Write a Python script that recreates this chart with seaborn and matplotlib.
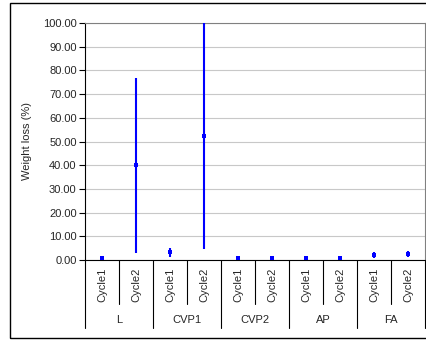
import numpy as np
import pandas as pd
import seaborn as sns
import matplotlib.pyplot as plt
import matplotlib.transforms as mtransforms

groups = ['L', 'CVP1', 'CVP2', 'AP', 'FA']
cycles = ['Cycle1', 'Cycle2']
mean_loss = [0.9, 40.0, 3.2, 52.5, 0.8, 1.0, 1.0, 1.0, 2.0, 2.5]
err_loss = [0.4, 37.0, 2.0, 48.0, 0.3, 0.3, 0.3, 0.3, 1.2, 1.2]

sns.set_style('white')
plt.rcParams['font.family'] = ['Liberation Sans', 'DejaVu Sans']

labels = [g + '|' + c for g in groups for c in cycles]
df = pd.DataFrame({'cat': labels, 'loss': mean_loss, 'err': err_loss})
df['pos'] = np.arange(len(labels))

fig = plt.figure(figsize=(4.27, 3.40), dpi=100)
ax = fig.add_axes([85/427, 1 - 260/340, 340/427, 237/340])

ax.errorbar(df['pos'], df['loss'], yerr=df['err'], fmt='none', ecolor='#0000ff',
            elinewidth=1.5, capsize=0, zorder=3)
sns.scatterplot(data=df, x='pos', y='loss', marker='s', s=10, color='#0000ff',
                linewidth=0, ax=ax, zorder=4, clip_on=False)

ax.set_ylim(0, 100)
ax.set_xlim(-0.5, len(labels) - 0.5)
ax.set_yticks(np.arange(0, 101, 10))
ax.set_yticklabels(['%.2f' % v for v in np.arange(0, 101, 10)], fontsize=8)
ax.yaxis.grid(True, color='#c8c8c8', lw=0.8)
ax.set_axisbelow(True)
ax.tick_params(axis='y', direction='out', length=4, width=0.8, color='black', pad=2, left=True)
ax.set_ylabel('Weight loss (%)', fontsize=8, labelpad=8)
ax.set_xlabel('')
ax.set_xticks([])
for s in ['top', 'right']:
    ax.spines[s].set_color('#808080')
    ax.spines[s].set_linewidth(0.8)
ax.spines['left'].set_color('black')
ax.spines['bottom'].set_color('black')
ax.spines['left'].set_linewidth(0.8)
ax.spines['bottom'].set_linewidth(0.8)

# hierarchical category axis
trans = mtransforms.blended_transform_factory(ax.transData, fig.transFigure)
y0 = 1 - 260/340
y_short = 1 - 304/340
y_long = 1 - 328/340
for b in np.arange(-0.5, len(labels), 1.0):
    idx = int(b + 0.5)
    y_end = y_long if idx % 2 == 0 else y_short
    ax.plot([b, b], [y0, y_end], color='black', lw=0.8, transform=trans, clip_on=False)
for i, lab in enumerate(labels):
    ax.text(i, 1 - 268/340, lab.split('|')[1], rotation=90, ha='center', va='top',
            fontsize=8, transform=trans)
for j, g in enumerate(groups):
    ax.text(2 * j + 0.5, 1 - 320/340, g, ha='center', va='center', fontsize=8, transform=trans)

# outer chart border
fig.patches.append(plt.Rectangle((10/427, 2/340), 1.2, 1 - 5/340, transform=fig.transFigure,
                                 fill=False, edgecolor='black', lw=1.0))

fig.savefig('out.png', dpi=100)
